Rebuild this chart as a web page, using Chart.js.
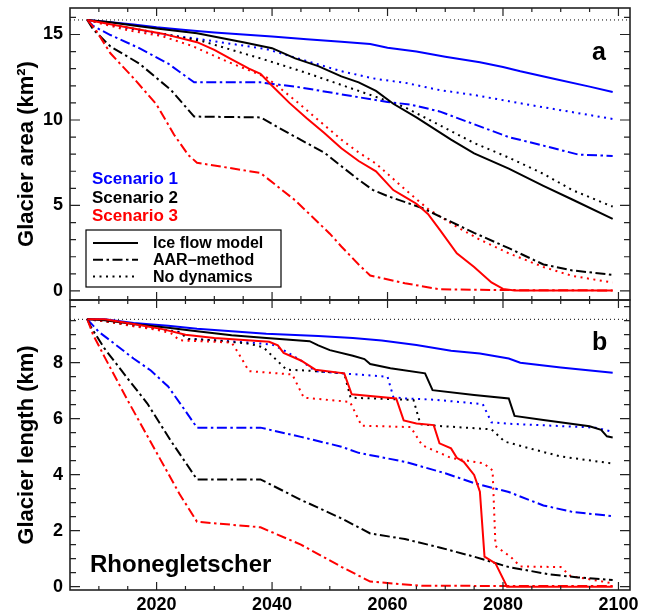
<!DOCTYPE html>
<html>
<head>
<meta charset="utf-8">
<title>Rhonegletscher</title>
<script src="https://cdn.jsdelivr.net/npm/chart.js@4"></script>
<style>
  body { margin: 0; background: #fff; }
  #wrap { position: relative; width: 651px; height: 615px; }
  #wrap canvas { position: absolute; left: 0; top: 0; }
</style>
</head>
<body>
<div id="wrap">
  <canvas id="areaChart" width="651" height="615"></canvas>
  <canvas id="lengthChart" width="651" height="615"></canvas>
</div>
<script>
// ---- data: [year, value] ----
const startArea = 15.85;   // km2 in 2008
const startLength = 9.55;  // km in 2008

// glacier area (km2)
const areaFlowS1 = [[2008,15.85],[2012,15.72],[2016,15.58],[2020,15.42],[2025,15.27],[2030,15.12],[2035,15.0],[2040,14.88],[2046,14.72],[2052,14.58],[2057,14.45],[2060,14.22],[2065,14.0],[2070,13.7],[2076,13.38],[2080,13.1],[2083,12.85],[2089,12.4],[2095,11.95],[2099,11.64]];
const areaFlowS2 = [[2008,15.85],[2012,15.72],[2016,15.52],[2020,15.35],[2027,15.07],[2035,14.55],[2040,14.2],[2044,13.6],[2048,13.15],[2052,12.55],[2055,12.2],[2058,11.7],[2061,10.95],[2065,10.15],[2071,8.85],[2075,8.05],[2081,7.15],[2087,6.15],[2092,5.35],[2099,4.21]];
const areaFlowS3 = [[2008,15.85],[2012,15.6],[2016,15.35],[2021,15.05],[2027,14.55],[2030,14.1],[2033,13.55],[2036,13.0],[2038,12.7],[2040,12.0],[2043,11.0],[2046,10.1],[2049,9.25],[2052,8.35],[2055,7.6],[2058,7.0],[2061,5.9],[2063,5.5],[2065,5.1],[2067,4.5],[2069,3.6],[2072,2.2],[2075,1.4],[2078,0.5],[2080,0.12],[2082,0.03],[2099,0.02]];
const areaAarS1 = [[2008,15.85],[2009,15.5],[2012,14.97],[2017,14.2],[2022,13.3],[2026.5,12.2],[2038,12.2],[2045,11.9],[2052,11.5],[2060,11.05],[2064,10.9],[2069,10.5],[2075,9.75],[2081,9.0],[2087,8.5],[2093,7.98],[2099,7.89]];
const areaAarS2 = [[2008,15.85],[2009,15.3],[2012,14.3],[2017,13.3],[2022.5,11.75],[2026.5,10.2],[2038,10.15],[2043,9.2],[2049,8.1],[2052,7.3],[2055,6.5],[2057.5,5.9],[2060,5.55],[2066,4.85],[2075,3.4],[2081,2.5],[2087,1.55],[2092,1.2],[2099,0.94]];
const areaAarS3 = [[2008,15.85],[2009.5,15.25],[2012,13.9],[2016,12.45],[2020,10.9],[2023,9.15],[2025.5,7.95],[2027,7.5],[2038,6.9],[2044,5.3],[2050,3.35],[2052,2.6],[2055,1.55],[2057,0.9],[2063,0.45],[2069,0.1],[2080,0.05],[2099,0.03]];
const areaNoDynS1 = [[2008,15.85],[2013,15.5],[2020,15.05],[2027,14.75],[2035,14.35],[2039,14.15],[2046,13.45],[2052,12.85],[2058,12.4],[2063,12.18],[2069,11.75],[2075,11.46],[2081,11.1],[2086,10.8],[2099,10.06]];
const areaNoDynS2 = [[2008,15.85],[2015,15.4],[2021,15.05],[2028,14.6],[2035,13.9],[2039,13.5],[2046,12.75],[2052,12.05],[2058,11.35],[2063,10.75],[2069,9.7],[2075,8.65],[2081,7.8],[2087,6.85],[2092,5.9],[2099,4.93]];
const areaNoDynS3 = [[2008,15.85],[2015,15.25],[2021,14.9],[2026,14.35],[2032,13.45],[2039,12.5],[2044,11.15],[2048,10.0],[2052,8.85],[2055,8.1],[2058,7.45],[2063,5.95],[2067,4.8],[2072,3.75],[2076,3.0],[2081,2.2],[2087,1.4],[2092,0.88],[2099,0.49]];

// glacier length (km)
const lengthFlowS1 = [[2008,9.55],[2011,9.55],[2016,9.42],[2022,9.32],[2027,9.21],[2033,9.12],[2039,9.03],[2048,8.95],[2054,8.88],[2059,8.79],[2065,8.63],[2071,8.43],[2076,8.33],[2081,8.15],[2083,8.0],[2090,7.83],[2099,7.64]];
const lengthFlowS2 = [[2008,9.55],[2011,9.52],[2016,9.38],[2022,9.25],[2027,9.12],[2033,8.98],[2039,8.88],[2046.5,8.77],[2048,8.62],[2050,8.45],[2054,8.25],[2056,8.13],[2057,7.95],[2060.5,7.8],[2066.5,7.62],[2067.8,7.02],[2075,6.85],[2081,6.72],[2082,6.1],[2087,5.95],[2095,5.73],[2097,5.6],[2098,5.37],[2099,5.33]];
const lengthFlowS3 = [[2008,9.55],[2011,9.55],[2016,9.38],[2021,9.2],[2025,9.0],[2030,8.88],[2039.5,8.75],[2041,8.62],[2042,8.35],[2045,8.08],[2047.5,7.75],[2052.5,7.62],[2053.8,6.87],[2061.5,6.72],[2062.8,5.94],[2065,5.83],[2068,5.77],[2069,5.12],[2071,4.94],[2072,4.6],[2073.2,4.46],[2075,3.99],[2076,3.39],[2076.8,1.07],[2078.7,0.83],[2080.7,0],[2099,0]];
const lengthAarS1 = [[2008,9.55],[2010,9.1],[2013,8.63],[2016,8.15],[2019,7.72],[2022,7.15],[2024.5,6.42],[2027,5.68],[2038,5.68],[2045,5.35],[2052,5.0],[2055,4.78],[2063,4.46],[2070,4.05],[2075,3.7],[2081,3.38],[2087,2.9],[2092,2.67],[2099,2.52]];
const lengthAarS2 = [[2008,9.55],[2008.6,9.28],[2011,8.5],[2015,7.43],[2018.4,6.54],[2022.4,5.23],[2027,3.83],[2038,3.83],[2045,3.1],[2052,2.44],[2057,1.9],[2063,1.7],[2069,1.4],[2075,1.07],[2081,0.7],[2088,0.44],[2093,0.33],[2099,0.24]];
const lengthAarS3 = [[2008,9.55],[2009,9.0],[2011,8.2],[2015,6.65],[2020.5,4.6],[2024,3.3],[2027,2.32],[2038,2.12],[2045,1.5],[2052,0.71],[2057,0.18],[2066,0.03],[2099,0.02]];
const lengthNoDynS1 = [[2008,9.55],[2012,9.48],[2016,9.35],[2020,9.22],[2024,9.1],[2025.5,8.85],[2030,8.8],[2036,8.72],[2040,8.65],[2042,8.45],[2045,8.08],[2047.5,7.7],[2052,7.62],[2060,7.5],[2061,6.78],[2063,6.72],[2068,6.68],[2076.5,6.52],[2078,5.87],[2081,5.82],[2096,5.68],[2099,5.53]];
const lengthNoDynS2 = [[2008,9.55],[2012,9.45],[2016,9.33],[2020,9.22],[2024,9.08],[2025.5,8.85],[2030,8.8],[2036,8.68],[2038.5,8.55],[2042.5,7.75],[2046,7.72],[2052.5,7.62],[2053.6,6.75],[2064.5,6.67],[2065.7,5.8],[2069,5.74],[2078,5.62],[2080.3,5.18],[2085,4.92],[2090,4.65],[2099,4.4]];
const lengthNoDynS3 = [[2008,9.55],[2012,9.45],[2016,9.3],[2020,9.18],[2022.5,9.05],[2024,8.8],[2033,8.72],[2034,8.4],[2036,7.7],[2043.5,7.58],[2045.5,6.75],[2053.5,6.6],[2055.5,5.75],[2064,5.7],[2066,5.05],[2071,4.6],[2076.7,4.4],[2078.2,4.15],[2078.7,1.45],[2081.3,1.07],[2083,0.72],[2090,0.7],[2091.7,0.38],[2099,0.12]];

// ticks
const xMajorTicks = [2020, 2040, 2060, 2080, 2100];
const xMinorTicks = [2010, 2015, 2025, 2030, 2035, 2045, 2050, 2055, 2065, 2070, 2075, 2085, 2090, 2095];
const areaMajorTicks = [0, 5, 10, 15];
const areaMinorTicks = [1, 2, 3, 4, 6, 7, 8, 9, 11, 12, 13, 14, 16];
const lengthMajorTicks = [0, 2, 4, 6, 8];
const lengthMinorTicks = [0.5, 1, 1.5, 2.5, 3, 3.5, 4.5, 5, 5.5, 6.5, 7, 7.5, 8.5, 9, 9.5, 10];

// ---- styles ----
const FONT = "'Liberation Sans', Arial, Helvetica, sans-serif";
const BLUE = '#0000ff', BLACK = '#000000', RED = '#ff0000';
const SOLID = [], DASH_DOT = [10, 3.5, 2.5, 3.5], DOTTED = [2, 4.5];
const X_MIN = 2005, X_MAX = 2102;

Chart.defaults.font.family = FONT;
Chart.defaults.font.weight = 'bold';
Chart.defaults.color = '#000';

function series(pairs, color, dash) {
  return {
    data: pairs.map(([x, y]) => ({ x, y })),
    borderColor: color,
    borderDash: dash,
    borderWidth: 2,
    pointRadius: 0,
    fill: false,
    tension: 0
  };
}

function refLine(value) {
  return {
    data: [{ x: X_MIN, y: value }, { x: X_MAX, y: value }],
    borderColor: '#000',
    borderDash: [1, 3],
    borderWidth: 1,
    pointRadius: 0
  };
}

// box with inward ticks on all four sides
const framePlugin = {
  id: 'frame',
  afterDatasetsDraw(chart, args, opts) {
    const { ctx, chartArea: a } = chart;
    const xs = chart.scales.x, ys = chart.scales.y;
    ctx.save();
    ctx.strokeStyle = '#222';
    ctx.setLineDash([]);
    ctx.lineWidth = 1.2;
    ctx.beginPath();
    const yTick = (v, len) => {
      const py = ys.getPixelForValue(v);
      if (py < a.top || py > a.bottom) return;
      ctx.moveTo(a.left, py); ctx.lineTo(a.left + len, py);
      ctx.moveTo(a.right, py); ctx.lineTo(a.right - len, py);
    };
    const xTick = (v, len) => {
      const px = xs.getPixelForValue(v);
      ctx.moveTo(px, a.top); ctx.lineTo(px, a.top + len);
      ctx.moveTo(px, a.bottom); ctx.lineTo(px, a.bottom - len);
    };
    opts.yMinor.forEach(v => yTick(v, 6));
    opts.yMajor.forEach(v => yTick(v, 10));
    xMinorTicks.forEach(v => xTick(v, 4));
    xMajorTicks.forEach(v => xTick(v, 8));
    ctx.stroke();
    ctx.lineWidth = 1.6;
    ctx.strokeRect(a.left, a.top, a.right - a.left, a.bottom - a.top);
    ctx.restore();
  }
};

function yScale(min, max, ticks, title) {
  return {
    type: 'linear',
    min, max,
    afterBuildTicks: s => { s.ticks = ticks.map(v => ({ value: v })); },
    // fixed axis width, and no extra room for the end labels
    afterFit: s => { s.width = 70; s.paddingTop = 0; s.paddingBottom = 0; },
    grid: { display: false, drawTicks: false },
    border: { display: false },
    ticks: { padding: 7, font: { size: 18, weight: 'bold' }, callback: v => String(v) },
    title: { display: true, text: title, font: { size: 22, weight: 'bold' }, padding: { top: 14, bottom: 0 } }
  };
}

// ---- panel a: area ----
const areaLabels = {
  id: 'areaLabels',
  afterDraw(chart) {
    const ctx = chart.ctx;
    ctx.save();
    ctx.textBaseline = 'alphabetic';
    ctx.font = `bold 25px ${FONT}`;
    ctx.fillStyle = '#000';
    ctx.fillText('a', 592, 60);

    ctx.font = `bold 17px ${FONT}`;
    [['Scenario 1', BLUE, 184], ['Scenario 2', BLACK, 203], ['Scenario 3', RED, 221]].forEach(([t, c, y]) => {
      ctx.fillStyle = c;
      ctx.fillText(t, 92, y);
    });

    // legend for line styles
    ctx.fillStyle = '#fff';
    ctx.fillRect(86, 230, 195, 57);
    ctx.strokeStyle = '#000';
    ctx.lineWidth = 1.2;
    ctx.setLineDash([]);
    ctx.strokeRect(86, 230, 195, 57);
    ctx.font = `bold 16px ${FONT}`;
    ctx.fillStyle = '#000';
    ctx.textBaseline = 'middle';
    [['Ice flow model', SOLID], ['AAR\u2013method', DASH_DOT], ['No dynamics', DOTTED]].forEach(([t, dash], i) => {
      const ry = 243 + i * 16.8;
      ctx.lineWidth = 2;
      ctx.setLineDash(dash);
      ctx.beginPath();
      ctx.moveTo(93, ry);
      ctx.lineTo(138, ry);
      ctx.stroke();
      ctx.setLineDash([]);
      ctx.fillText(t, 153, ry + 1);
    });
    ctx.restore();
  }
};

new Chart(document.getElementById('areaChart'), {
  type: 'line',
  data: {
    datasets: [
      series(areaFlowS3, RED, SOLID),
      series(areaFlowS2, BLACK, SOLID),
      series(areaFlowS1, BLUE, SOLID),
      series(areaAarS3, RED, DASH_DOT),
      series(areaAarS2, BLACK, DASH_DOT),
      series(areaAarS1, BLUE, DASH_DOT),
      series(areaNoDynS3, RED, DOTTED),
      series(areaNoDynS2, BLACK, DOTTED),
      series(areaNoDynS1, BLUE, DOTTED),
      refLine(startArea)
    ]
  },
  options: {
    responsive: false,
    animation: false,
    devicePixelRatio: 1,
    layout: { autoPadding: false, padding: { left: 0, right: 21, top: 8, bottom: 315 } },
    scales: {
      x: { type: 'linear', min: X_MIN, max: X_MAX, display: false },
      y: yScale(-0.53, 16.55, areaMajorTicks, 'Glacier area (km\u00b2)')
    },
    plugins: {
      legend: { display: false },
      tooltip: { enabled: false },
      frame: { yMajor: areaMajorTicks, yMinor: areaMinorTicks }
    }
  },
  plugins: [framePlugin, areaLabels]
});

// ---- panel b: length ----
const lengthLabels = {
  id: 'lengthLabels',
  afterDraw(chart) {
    const ctx = chart.ctx;
    ctx.save();
    ctx.fillStyle = '#000';
    ctx.textBaseline = 'alphabetic';
    ctx.font = `bold 25px ${FONT}`;
    ctx.fillText('b', 592, 350);
    ctx.font = `bold 24px ${FONT}`;
    ctx.fillText('Rhonegletscher', 90, 572);
    ctx.restore();
  }
};

new Chart(document.getElementById('lengthChart'), {
  type: 'line',
  data: {
    datasets: [
      series(lengthFlowS3, RED, SOLID),
      series(lengthFlowS2, BLACK, SOLID),
      series(lengthFlowS1, BLUE, SOLID),
      series(lengthAarS3, RED, DASH_DOT),
      series(lengthAarS2, BLACK, DASH_DOT),
      series(lengthAarS1, BLUE, DASH_DOT),
      series(lengthNoDynS3, RED, DOTTED),
      series(lengthNoDynS2, BLACK, DOTTED),
      series(lengthNoDynS1, BLUE, DOTTED),
      refLine(startLength)
    ]
  },
  options: {
    responsive: false,
    animation: false,
    devicePixelRatio: 1,
    layout: { autoPadding: false, padding: { left: 0, right: 21, top: 300, bottom: 0 } },
    scales: {
      x: {
        type: 'linear',
        min: X_MIN, max: X_MAX,
        afterBuildTicks: s => { s.ticks = xMajorTicks.map(v => ({ value: v })); },
        afterFit: s => { s.height = 25; s.paddingLeft = 0; s.paddingRight = 0; },
        grid: { display: false, drawTicks: false },
        border: { display: false },
        ticks: { padding: 4, maxRotation: 0, autoSkip: false, font: { size: 18, weight: 'bold' }, callback: v => String(v) }
      },
      y: yScale(-0.12, 10.24, lengthMajorTicks, 'Glacier length (km)')
    },
    plugins: {
      legend: { display: false },
      tooltip: { enabled: false },
      frame: { yMajor: lengthMajorTicks, yMinor: lengthMinorTicks }
    }
  },
  plugins: [framePlugin, lengthLabels]
});
</script>
</body>
</html>
